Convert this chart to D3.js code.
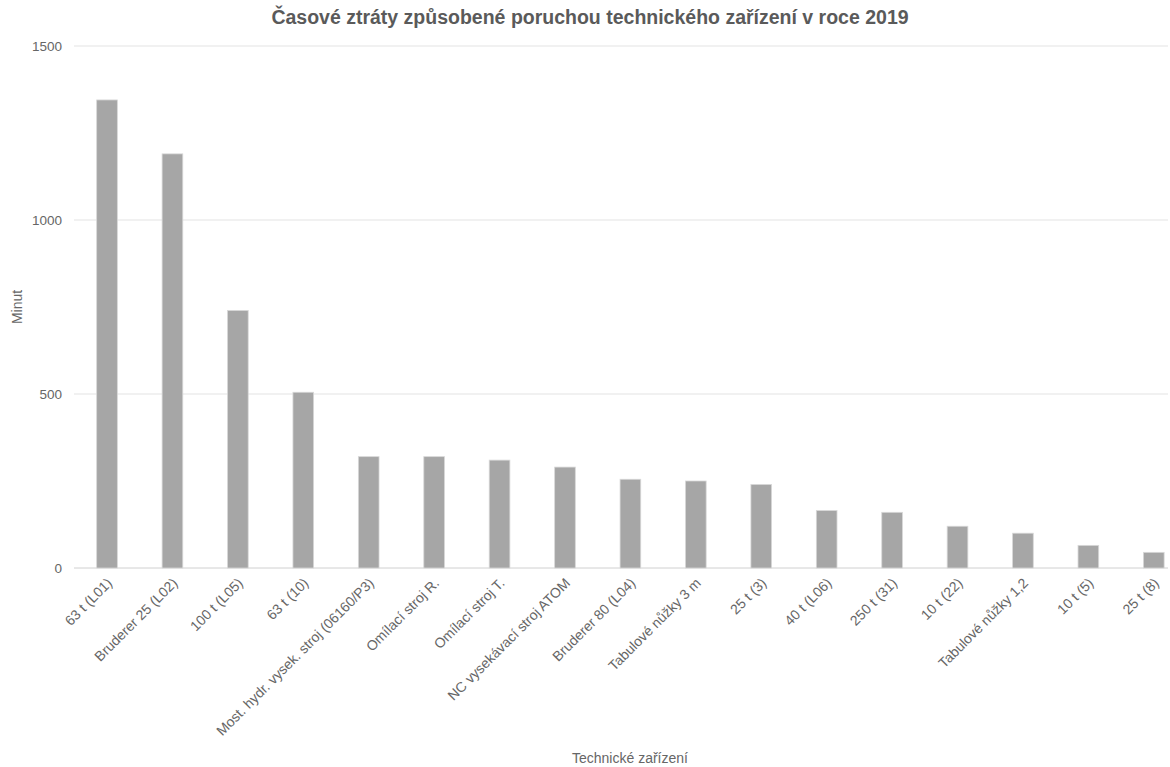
<!DOCTYPE html>
<html>
<head>
<meta charset="utf-8">
<script src="https://cdn.jsdelivr.net/npm/d3@7"></script>
<style>
  html, body { margin: 0; padding: 0; background: #fff; }
  svg { display: block; font-family: "Liberation Sans", Arial, sans-serif; }
</style>
</head>
<body>
<svg id="chart" width="1170" height="767"></svg>
<script>
const categories = [
  "63 t (L01)", "Bruderer 25 (L02)", "100 t (L05)", "63 t (10)",
  "Most. hydr. vysek. stroj (06160/P3)", "Omílací stroj R.", "Omílací stroj T.",
  "NC vysekávací stroj ATOM", "Bruderer 80 (L04)", "Tabulové nůžky 3 m",
  "25 t (3)", "40 t (L06)", "250 t (31)", "10 t (22)", "Tabulové nůžky 1,2",
  "10 t (5)", "25 t (8)"
];
const minutes = [1345, 1190, 740, 505, 320, 320, 310, 290, 255, 250, 240, 165, 160, 120, 100, 65, 45];
const yTicks = [0, 500, 1000, 1500];
const title = "Časové ztráty způsobené poruchou technického zařízení v roce 2019";
const xTitle = "Technické zařízení";
const yTitle = "Minut";

const svg = d3.select("#chart");
const plotLeft = 74, plotRight = 1168, plotTop = 46, plotBottom = 568;

const x = d3.scaleBand().domain(categories).range([74.3, 1186.5]).paddingInner(0.684).paddingOuter(0.342);
const y = d3.scaleLinear().domain([0, 1500]).range([plotBottom, plotTop]);

// gridlines
svg.append("g").selectAll("line").data(yTicks).join("line")
  .attr("x1", plotLeft).attr("x2", plotRight)
  .attr("y1", d => y(d)).attr("y2", d => y(d))
  .attr("stroke", d => d === 0 ? "#d0d0d0" : "#e3e3e3").attr("stroke-width", 1);

// y tick labels
const yAxis = d3.axisLeft(y).tickValues(yTicks).tickFormat(d3.format("d")).tickSize(0).tickPadding(0);
const gy = svg.append("g").attr("transform", `translate(62,0)`).call(yAxis);
gy.select(".domain").remove();
gy.selectAll("text").attr("font-size", 13.5).attr("fill", "#666").attr("font-family", "Liberation Sans, Arial, sans-serif");

// bars
svg.append("g").selectAll("rect").data(minutes).join("rect")
  .attr("x", (d, i) => x(categories[i]))
  .attr("y", d => y(d))
  .attr("width", x.bandwidth())
  .attr("height", d => y(0) - y(d))
  .attr("fill", "#a6a6a6")
  .attr("stroke", "#d8d8d8").attr("stroke-width", 0.8);

// x labels
const xAxis = d3.axisBottom(x).tickSize(0).tickPadding(0);
const gx = svg.append("g").attr("transform", `translate(0,${plotBottom})`).call(xAxis);
gx.select(".domain").remove();
gx.selectAll(".tick text")
  .attr("font-size", 14).attr("fill", "#666")
  .attr("font-family", "Liberation Sans, Arial, sans-serif")
  .attr("text-anchor", "end")
  .attr("dy", null).attr("y", 0)
  .attr("transform", "translate(6,16) rotate(-45)");

// titles
svg.append("text").attr("x", 590).attr("y", 24).attr("text-anchor", "middle")
  .attr("font-size", 19.5).attr("font-weight", "bold").attr("fill", "#5a5a5a").text(title);
svg.append("text").attr("x", 630).attr("y", 763).attr("text-anchor", "middle")
  .attr("font-size", 14).attr("fill", "#666").text(xTitle);
svg.append("text").attr("transform", "translate(22,307) rotate(-90)").attr("text-anchor", "middle")
  .attr("font-size", 14).attr("fill", "#666").text(yTitle);
</script>
</body>
</html>
